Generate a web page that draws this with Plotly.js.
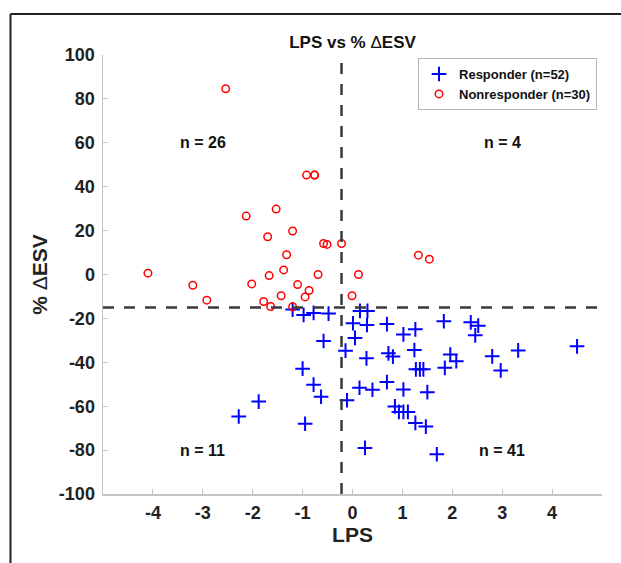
<!DOCTYPE html>
<html>
<head>
<meta charset="utf-8">
<script src="https://cdn.plot.ly/plotly-3.0.1.min.js"></script>
<style>
  html, body { margin: 0; padding: 0; background: #ffffff; }
  #chart { width: 621px; height: 563px; }
</style>
</head>
<body>
<div id="chart"></div>
<script>
// Responders (52)
const responderLPS = [
  -1.20, -0.98, -0.78, -0.48, -0.58, -1.00, -0.78, -0.63, -1.88, -2.28, -0.95,
  0.15, 0.30, 0.01, 0.29, 0.69, 1.02, 1.26, 0.05, -0.14, 1.24, 0.72, 0.81, 0.28,
  1.27, 1.35, 1.42, 0.14, 0.40, 0.69, 1.02, 1.50, -0.11, 0.85, 0.93, 1.02, 1.11,
  1.26, 1.47, 0.25, 1.83, 2.37, 2.52, 2.46, 4.50, 3.32, 1.96, 2.08, 2.80, 1.85,
  2.97, 1.69
];
const responderESV = [
  -16.0, -18.4, -17.5, -17.8, -30.3, -42.9, -50.2, -55.7, -57.9, -64.7, -68.0,
  -16.6, -16.6, -22.2, -23.0, -22.6, -27.3, -25.0, -28.9, -34.7, -34.4, -35.9, -37.4, -38.2,
  -43.2, -43.2, -43.2, -51.6, -52.5, -49.0, -52.4, -53.6, -57.3, -60.1, -62.6, -62.6, -62.6,
  -67.6, -69.3, -79.0, -21.3, -21.8, -23.3, -27.7, -32.7, -34.6, -36.5, -39.5, -37.3, -42.5,
  -43.7, -81.9
];
// Nonresponders (30)
const nonresponderLPS = [
  -2.54, -0.92, -0.76, -2.13, -1.53, -1.70, -1.20, -0.58, -0.51, -0.22,
  -1.32, -4.10, -1.38, -1.67, -0.69, -3.20, -2.02, -1.10, -0.87, -1.43,
  -0.95, 1.32, 1.54, 0.12, -0.01, -2.92, -1.78, -1.64, -1.20, -0.76
];
const nonresponderESV = [
  84.6, 45.3, 45.3, 26.6, 29.8, 17.2, 19.8, 14.1, 13.7, 14.1,
  9.0, 0.6, 2.1, -0.5, 0.0, -4.9, -4.3, -4.6, -7.3, -9.7,
  -10.2, 8.8, 7.0, 0.0, -9.7, -11.7, -12.3, -14.6, -14.7, 45.3
];
const lpsCut = -0.22;
const esvCut = -15;
const xTicks = [-4, -3, -2, -1, 0, 1, 2, 3, 4];
const yTicks = [-100, -80, -60, -40, -20, 0, 20, 40, 60, 80, 100];
const quadLabels = ['n = 26', 'n = 4', 'n = 11', 'n = 41'];
const quadX = [-3, 3, -3, 3];
const quadY = [60, 60, -80, -80];

const FONT = '"Liberation Sans", Arial, Helvetica, sans-serif';
const DASH = '#3a3a3a';

const traces = [
  {
    x: responderLPS, y: responderESV, type: 'scatter', mode: 'markers',
    name: 'Responder (n=52)',
    marker: { symbol: 'cross-thin', size: 10.5, color: '#0000ff', line: { color: '#0000ff', width: 2 } }
  },
  {
    x: nonresponderLPS, y: nonresponderESV, type: 'scatter', mode: 'markers',
    name: 'Nonresponder (n=30)',
    marker: { symbol: 'circle-open', size: 7.5, color: '#ff0000', line: { color: '#ff0000', width: 1.5 } }
  }
];

const annotations = quadLabels.map((t, i) => ({
  x: quadX[i], y: quadY[i], xref: 'x', yref: 'y', text: t, showarrow: false,
  font: { family: FONT, size: 16, color: '#111', weight: 'bold' }
}));

const layout = {
  width: 621, height: 563,
  paper_bgcolor: '#ffffff', plot_bgcolor: '#ffffff',
  margin: { l: 103, r: 19, t: 55, b: 69 },
  font: { family: FONT, color: '#222' },
  title: {
    text: 'LPS vs % <span style="font-weight:normal">Δ</span>ESV',
    font: { family: FONT, size: 17, color: '#111', weight: 'bold' },
    x: 0.5, xref: 'paper', xanchor: 'center',
    y: 1 - 42 / 563, yref: 'container', yanchor: 'middle'
  },
  xaxis: {
    range: [-5, 5], tickvals: xTicks, ticktext: xTicks.map(String),
    showgrid: false, zeroline: false, showline: true, linecolor: '#c4c4c4', linewidth: 1.5,
    ticks: 'inside', ticklen: 5, tickcolor: '#c4c4c4', tickwidth: 1,
    tickfont: { family: FONT, size: 18, color: '#222', weight: 'bold' },
    ticklabelstandoff: 2,
    title: { text: 'LPS', font: { family: FONT, size: 21, color: '#222', weight: 'bold' }, standoff: 4 },
    fixedrange: true
  },
  yaxis: {
    range: [-100, 100], tickvals: yTicks, ticktext: yTicks.map(String),
    showgrid: false, zeroline: false, showline: true, linecolor: '#c4c4c4', linewidth: 1.5,
    ticks: 'inside', ticklen: 5, tickcolor: '#c4c4c4', tickwidth: 1,
    tickfont: { family: FONT, size: 18, color: '#222', weight: 'bold' },
    ticklabelstandoff: 3,
    title: { text: '% <span style="font-weight:normal">Δ</span>ESV', font: { family: FONT, size: 21, color: '#222', weight: 'bold' }, standoff: 5 },
    fixedrange: true
  },
  showlegend: true,
  legend: {
    x: 0.99, xanchor: 'right', y: 0.993, yanchor: 'top',
    bgcolor: '#ffffff', bordercolor: '#b5b5b5', borderwidth: 1,
    font: { family: FONT, size: 13, color: '#111', weight: 'bold' },
    itemwidth: 30, tracegroupgap: 0
  },
  shapes: [
    { type: 'line', xref: 'x', yref: 'y', x0: lpsCut, x1: lpsCut, y0: -100, y1: 100,
      line: { color: DASH, width: 2.5, dash: '11px,10px' } },
    { type: 'line', xref: 'x', yref: 'y', x0: -5, x1: 5, y0: esvCut, y1: esvCut,
      line: { color: DASH, width: 2.5, dash: '11px,10px' } },
    { type: 'line', xref: 'paper', yref: 'paper', x0: -0.1854, x1: 1.04, y0: 1.0934, y1: 1.0934,
      line: { color: '#222', width: 2 } },
    { type: 'line', xref: 'paper', yref: 'paper', x0: -0.1854, x1: -0.1854, y0: 1.0934, y1: -0.16,
      line: { color: '#222', width: 2 } }
  ],
  annotations: annotations
};

Plotly.newPlot('chart', traces, layout, { displayModeBar: false, staticPlot: true });
</script>
</body>
</html>
